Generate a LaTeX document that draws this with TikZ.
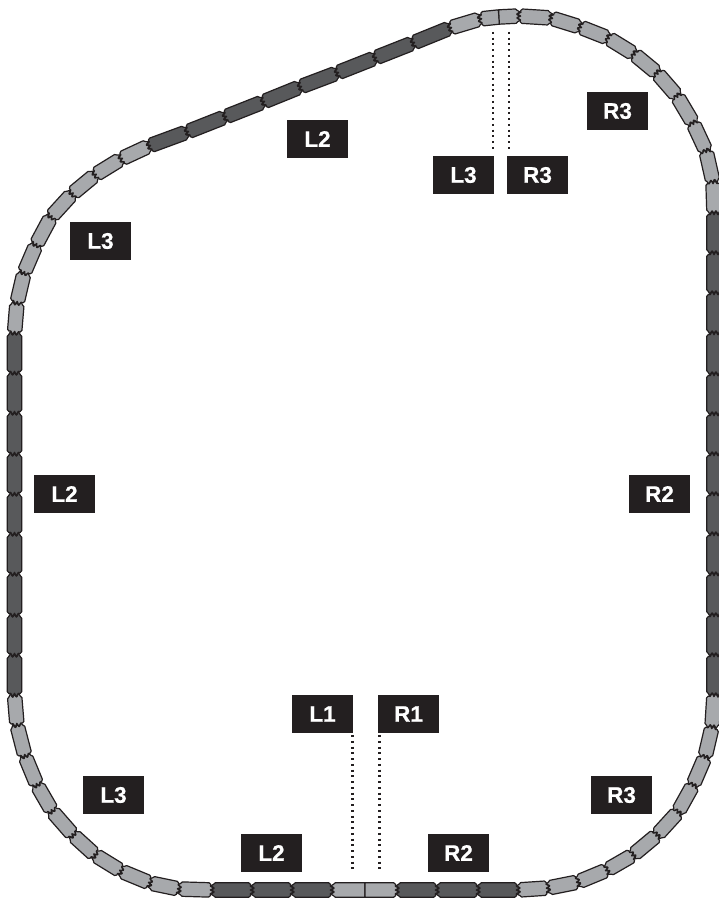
\documentclass[tikz,border=0pt]{standalone}
\usepackage{fontspec}
\setmainfont{Liberation Sans}
\newfontfamily\tagfont[BoldFeatures={FakeBold=0.8}]{Liberation Sans}
\definecolor{railD}{HTML}{58595B}
\definecolor{railL}{HTML}{A7A9AC}
\definecolor{inkK}{HTML}{231F20}
\tikzset{
  tag/.style={fill=inkK,text=white,minimum width=61pt,minimum height=38pt,inner sep=0pt,
    font=\tagfont\fontsize{22.5}{23}\selectfont\bfseries},
  dotline/.style={inkK,line width=2.3pt,dash pattern=on 2pt off 3.75pt},
  railedge/.style={draw=inkK,line width=1.2pt,line join=round},
  railzig/.style={draw=inkK,line width=2.2pt,line join=round}
}
\begin{document}
\begin{tikzpicture}[x=1pt,y=1pt]
\useasboundingbox (0,-901) rectangle (719,0);
\fill[white] (0,-901) rectangle (719,0);
\foreach \bx/\by/\c/\sa/\sb [remember=\bx as \ax (initially 365),remember=\by as \ay (initially 890)] in {
 332/890/railL/1/0, 292/890/railD/0/0, 252/890/railD/0/0, 212/890/railD/0/0,
 179/889/railL/0/0, 150/883/railL/0/0, 121/871/railL/0/0, 95/855/railL/0/0, 73/835/railL/0/0,
 52/811/railL/0/0, 37/785/railL/0/0, 25/756/railL/0/0, 17/725/railL/0/0, 14.5/695/railL/0/0,
 14.5/655/railD/0/0, 14.5/615/railD/0/0, 14.5/574/railD/0/0, 14.5/534/railD/0/0, 14.5/494/railD/0/0,
 14.5/454/railD/0/0, 14.5/413/railD/0/0, 14.5/373/railD/0/0, 14.5/333/railD/0/0,
 17/303/railL/0/0, 24/273/railL/0/0, 36/245/railL/0/0, 51/217/railL/0/0, 72/194/railL/0/0,
 95/175/railL/0/0, 121/159/railL/0/0, 149/146/railL/0/0,
 187/132/railD/0/0, 225/117/railD/0/0, 263/102/railD/0/0, 300/87/railD/0/0, 337/73/railD/0/0,
 375/58/railD/0/0, 413/43/railD/0/0, 450/28/railD/0/0,
 480/19/railL/0/0, 499/17/railL/0/1, 519/16/railL/1/0, 551/18/railL/0/0, 580/27/railL/0/0,
 608/38/railL/0/0, 634/54/railL/0/0, 657/73/railL/0/0, 677/96/railL/0/0, 693/123/railL/0/0,
 706/151/railL/0/0, 713/182/railL/0/0, 714/213/railL/0/0,
 714/253/railD/0/0, 714/293/railD/0/0, 714/333/railD/0/0, 714/374/railD/0/0, 714/414/railD/0/0,
 714/454/railD/0/0, 714/494/railD/0/0, 714/534/railD/0/0, 714/574/railD/0/0, 714/615/railD/0/0,
 714/655/railD/0/0, 714/695/railD/0/0,
 712/727/railL/0/0, 705/757/railL/0/0, 693/785/railL/0/0, 678/812/railL/0/0, 657/835/railL/0/0,
 633/855/railL/0/0, 607/870/railL/0/0, 578/882/railL/0/0, 548/888/railL/0/0, 518/890/railL/0/0,
 478/890/railD/0/0, 437/890/railD/0/0, 397/890/railD/0/0, 365/890/railL/0/1}{
  \pgfmathsetmacro\L{veclen(\bx-\ax,\by-\ay)}
  \pgfmathsetmacro\ang{atan2(\ay-\by,\bx-\ax)}
  \pgfmathsetmacro\Lm{\L-3.2}
  \pgfmathsetmacro\Lc{\L-1.4}
  \pgfmathsetmacro\Lp{\L+1.7}
  \pgfmathsetmacro\Ln{\L-1.6}
  \begin{scope}[shift={(\ax,-\ay)},rotate=\ang]
    \ifnum\sb=1
      \def\eTop{-- (\L,7.2) -- (\L,-7.2)}
    \else
      \def\eTop{-- (\Lm,7.2) -- (\Lc,5.6) -- (\Lp,3.8) -- (\Ln,1.9) -- (\Lp,0) -- (\Ln,-1.9) -- (\Lp,-3.8) -- (\Lc,-5.6) -- (\Lm,-7.2)}
    \fi
    \ifnum\sa=1
      \def\sBot{-- (0,-7.2) -- (0,7.2)}
    \else
      \def\sBot{-- (3.2,-7.2) -- (1.4,-5.6) -- (1.7,-3.8) -- (-1.6,-1.9) -- (1.7,0) -- (-1.6,1.9) -- (1.7,3.8) -- (1.4,5.6) -- (3.2,7.2)}
    \fi
    \path[fill=\c,railedge] (3.2,7.2) \eTop \sBot -- cycle;
    \ifnum\sb=0
      \draw[railzig] (\Lp,3.8) -- (\Ln,1.9) -- (\Lp,0) -- (\Ln,-1.9) -- (\Lp,-3.8);
    \fi
  \end{scope}
}
\node[tag] (nL1) at (322.5,-714) {L1};
\node[tag] (nR1) at (408.5,-714) {R1};
\node[tag] (nL2b) at (271.5,-853) {L2};
\node[tag] (nR2b) at (458.5,-853) {R2};
\node[tag] (nL3b) at (113.5,-795) {L3};
\node[tag] (nR3b) at (621.5,-795) {R3};
\node[tag] (nL2l) at (64.5,-494) {L2};
\node[tag] (nR2r) at (659.5,-494) {R2};
\node[tag] (nL3u) at (100.5,-241) {L3};
\node[tag] (nL2u) at (317.5,-139) {L2};
\node[tag] (nL3t) at (463.5,-175) {L3};
\node[tag] (nR3t) at (537.5,-175) {R3};
\node[tag] (nR3u) at (617.5,-111) {R3};
\coordinate (eL1) at (352.5,-871);
\coordinate (eR1) at (379.5,-871);
\coordinate (aL3) at (493,-32);
\coordinate (bL3) at (493,-149);
\coordinate (aR3) at (509,-32);
\coordinate (bR3) at (509,-149);
\draw[dotline,shorten <=2pt] (eL1 |- nL1.south) -- (eL1);
\draw[dotline,shorten <=2pt] (eR1 |- nR1.south) -- (eR1);
\draw[dotline] (aL3) -- (bL3);
\draw[dotline] (aR3) -- (bR3);
\end{tikzpicture}
\end{document}
